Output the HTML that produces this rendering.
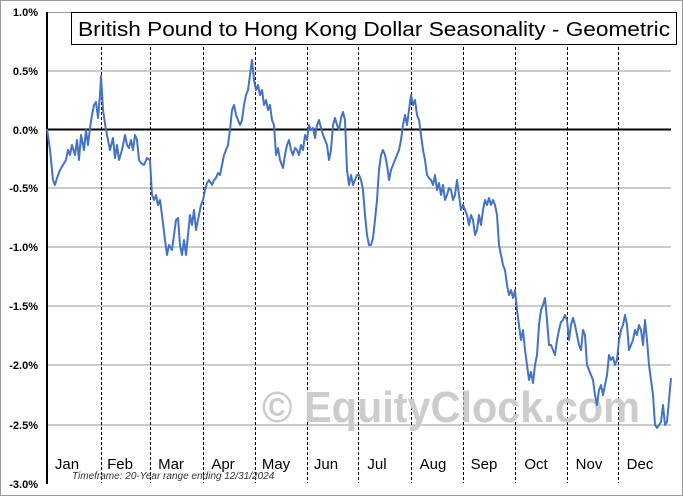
<!DOCTYPE html><html><head><style>body{margin:0;background:#fff}svg{display:block}text{font-family:"Liberation Sans",sans-serif}</style></head><body>
<svg width="683" height="496" viewBox="0 0 683 496">
<rect x="0.5" y="0.5" width="682" height="495" fill="#fff" stroke="#999"/>
<g stroke="#999" stroke-width="1">
<line x1="47" y1="12.5" x2="671" y2="12.5"/><line x1="47" y1="71" x2="671" y2="71"/><line x1="47" y1="188" x2="671" y2="188"/><line x1="47" y1="247" x2="671" y2="247"/><line x1="47" y1="306" x2="671" y2="306"/><line x1="47" y1="365" x2="671" y2="365"/><line x1="47" y1="425" x2="671" y2="425"/>
</g>
<g stroke="#000" stroke-dasharray="3,2" stroke-width="1">
<line x1="101.5" y1="12" x2="101.5" y2="483"/><line x1="150.5" y1="12" x2="150.5" y2="483"/><line x1="203.5" y1="12" x2="203.5" y2="483"/><line x1="255.5" y1="12" x2="255.5" y2="483"/><line x1="307.5" y1="12" x2="307.5" y2="483"/><line x1="358.5" y1="12" x2="358.5" y2="483"/><line x1="411.5" y1="12" x2="411.5" y2="483"/><line x1="463.5" y1="12" x2="463.5" y2="483"/><line x1="515.5" y1="12" x2="515.5" y2="483"/><line x1="567.5" y1="12" x2="567.5" y2="483"/><line x1="618.5" y1="12" x2="618.5" y2="483"/>
</g>
<text x="262" y="422" font-size="44" font-weight="bold" fill="#cccccc" textLength="378" lengthAdjust="spacingAndGlyphs">© EquityClock.com</text>
<line x1="47" y1="129.5" x2="671" y2="129.5" stroke="#000" stroke-width="2"/>
<line x1="47" y1="12" x2="47" y2="484" stroke="#000" stroke-width="2"/>
<g font-size="11" font-weight="bold" text-anchor="end" fill="#000">
<text x="38" y="16">1.0%</text><text x="38" y="75">0.5%</text><text x="38" y="134">0.0%</text><text x="38" y="192">-0.5%</text><text x="38" y="251">-1.0%</text><text x="38" y="310">-1.5%</text><text x="38" y="369">-2.0%</text><text x="38" y="429">-2.5%</text><text x="38" y="488">-3.0%</text>
</g>
<g font-size="15" fill="#000" text-anchor="middle">
<text x="67" y="469">Jan</text><text x="120" y="469">Feb</text><text x="171" y="469">Mar</text><text x="223" y="469">Apr</text><text x="276" y="469">May</text><text x="326" y="469">Jun</text><text x="377" y="469">Jul</text><text x="433" y="469">Aug</text><text x="484" y="469">Sep</text><text x="536" y="469">Oct</text><text x="589" y="469">Nov</text><text x="640" y="469">Dec</text>
</g>
<text x="72" y="479" font-size="10" font-style="italic" fill="#333">Timeframe: 20-Year range ending 12/31/2024</text>
<polyline fill="none" stroke="#4472c4" stroke-width="2" stroke-linejoin="round" points="47,129 50,150 53,180 55,185 57,178 60,170 63,165 66,160 68,150 70,155 72,145 75,155 77,140 79,160 81,135 84,150 86,130 88,145 90,128 92,115 94,105 96,102 98,118 100,95 101,76 103,110 106,130 108,140 110,150 113,138 115,158 117,145 119,160 122,150 125,135 127,145 129,148 131,140 133,150 135,135 137,140 139,160 141,163 144,165 147,158 150,160 152,195 154,200 156,195 158,205 160,200 162,215 165,240 167,255 169,245 172,250 174,235 176,220 178,218 180,245 182,255 184,240 186,255 188,235 190,215 192,225 194,210 196,230 199,215 201,205 203,200 205,190 207,183 209,180 212,185 214,180 216,178 218,173 220,175 222,165 224,155 226,150 228,145 230,130 232,110 234,105 236,115 238,120 240,125 242,120 244,105 246,95 248,90 250,75 252,60 254,80 256,90 258,85 260,95 262,90 264,105 266,100 268,110 270,105 272,120 274,125 276,155 278,148 280,160 283,168 285,155 287,145 289,140 291,150 293,155 295,148 297,150 299,155 301,145 303,150 305,135 307,140 309,125 311,130 313,128 315,138 317,125 319,120 321,128 323,135 325,140 327,145 329,160 331,150 333,125 335,118 337,125 339,130 341,118 343,112 345,120 347,170 349,185 351,175 353,185 355,180 357,175 359,175 361,180 363,190 365,215 367,235 369,245 371,245 373,238 375,220 377,200 379,170 381,155 383,150 385,155 387,165 389,180 391,170 393,165 395,160 397,155 399,150 401,140 403,125 405,115 407,125 409,110 411,95 413,105 415,100 417,115 419,120 421,135 423,150 425,160 427,175 429,178 431,180 433,185 435,175 437,190 439,183 441,195 443,185 445,200 447,195 449,188 451,190 453,200 455,195 457,180 459,195 461,210 463,205 465,210 467,215 469,225 471,215 473,220 475,235 477,230 479,215 481,225 483,210 485,200 487,205 489,198 491,205 493,200 495,205 497,215 499,245 501,255 503,265 505,270 507,285 509,295 511,290 513,298 515,290 517,310 519,325 521,340 523,330 525,350 527,365 529,380 531,372 533,383 535,365 537,355 539,325 541,310 543,305 545,298 547,320 549,345 551,345 553,350 555,355 557,340 559,330 561,322 563,320 565,315 567,320 569,340 571,325 573,318 575,325 577,335 579,345 581,350 583,330 585,335 587,365 589,370 591,375 593,380 595,395 597,405 599,390 601,385 603,395 605,385 607,375 609,355 611,360 613,357 615,365 617,360 619,340 621,330 623,325 625,315 627,325 629,350 631,345 633,340 635,330 637,335 639,325 641,330 643,345 645,320 647,340 649,365 651,380 653,395 655,425 657,428 659,425 661,422 663,405 665,425 667,422 669,400 671,378"/>
<rect x="71.5" y="12.5" width="605" height="32" fill="#fff" stroke="#000"/>
<text x="78" y="36" font-size="20" fill="#000" textLength="592" lengthAdjust="spacingAndGlyphs">British Pound to Hong Kong Dollar Seasonality - Geometric</text>
</svg>
</body></html>
